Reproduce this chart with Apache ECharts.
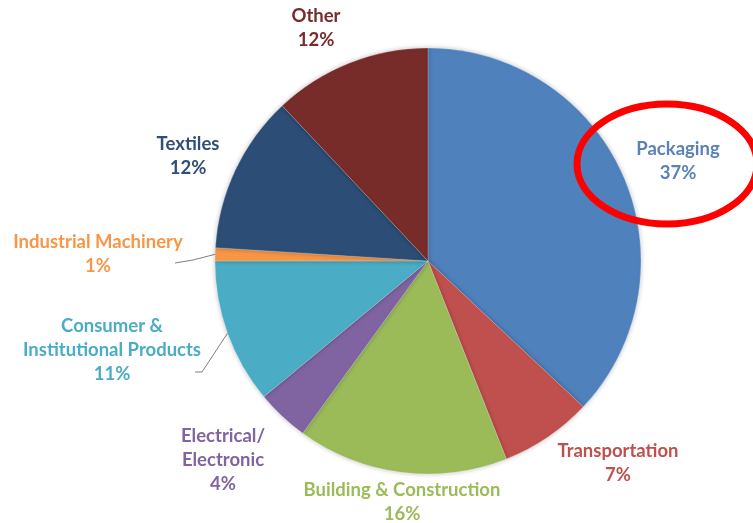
<!DOCTYPE html>
<html>
<head>
<meta charset="utf-8">
<script src="https://cdn.jsdelivr.net/npm/echarts@6/dist/echarts.min.js"></script>
<style>html,body{margin:0;padding:0;background:#fff}#c{width:753px;height:523px}</style>
</head>
<body>
<div id="c"></div>
<script>
// ---- data ----
var categories = ['Packaging', 'Transportation', 'Building & Construction', 'Electrical/\nElectronic',
  'Consumer &\nInstitutional Products', 'Industrial Machinery', 'Textiles', 'Other'];
var shares = [37, 7, 16, 4, 11, 1, 12, 12];

// ---- style / layout ----
var sliceColors = ['#4F81BD', '#C0504D', '#9BBB59', '#8064A2', '#4BACC6', '#F79646', '#2C4D75', '#772C2A'];
var textColors  = ['#5A82B8', '#C0504D', '#9BBB59', '#8064A2', '#4BACC6', '#F79646', '#2F4F78', '#772C2A'];
var CX = 428, CY = 261, R = 213;
// label block centre offsets from pie centre
var labelOffsets = [[250, -100], [190, 202], [-26, 241], [-205, 199], [-316, 89], [-330, -7], [-240, -105], [-112, -233]];
// leader line end points (offsets from centre) for items with a line
var leaderEnds = { 4: [[-226, 111], [-233, 111]], 5: [[-235, -1], [-253, 2]] };

var total = shares.reduce(function (a, b) { return a + b; }, 0);
function midAngle(i) {
  var s = 0;
  for (var k = 0; k < i; k++) s += shares[k];
  return (s + shares[i] / 2) / total * Math.PI * 2;
}

var chart = echarts.init(document.getElementById('c'), null, { renderer: 'canvas' });
chart.setOption({
  animation: false,
  backgroundColor: '#ffffff',
  series: [{
    type: 'pie',
    center: [CX, CY],
    radius: R,
    startAngle: 90,
    clockwise: true,
    itemStyle: { shadowBlur: 5, shadowColor: 'rgba(0,0,0,0.25)', borderColor: 'rgba(255,255,255,0.35)', borderWidth: 0.6 },
    label: {
      show: true,
      position: 'outside',
      formatter: '{b}\n{c}%',
      fontFamily: 'Lato',
      fontWeight: 'bold',
      fontSize: 18.5,
      lineHeight: 24,
      align: 'center',
      overflow: 'none'
    },
    labelLine: { show: false, lineStyle: { color: '#7f7f7f', width: 1 } },
    emphasis: { disabled: true },
    labelLayout: function (p) {
      var i = p.dataIndex;
      var o = labelOffsets[i];
      var res = { x: CX + o[0], y: CY + o[1], align: 'center', verticalAlign: 'middle', width: 260 };
      if (leaderEnds[i]) {
        var a = midAngle(i);
        var pts = [[CX + R * Math.sin(a), CY - R * Math.cos(a)]];
        leaderEnds[i].forEach(function (e) { pts.push([CX + e[0], CY + e[1]]); });
        res.labelLinePoints = pts;
      }
      return res;
    },
    data: categories.map(function (name, i) {
      return {
        name: name,
        value: shares[i],
        itemStyle: { color: sliceColors[i] },
        label: { color: textColors[i] },
        labelLine: { show: !!leaderEnds[i] }
      };
    })
  }],
  graphic: [{
    type: 'ellipse',
    shape: { cx: 667, cy: 164, rx: 90, ry: 60 },
    style: { fill: 'none', stroke: '#FF0000', lineWidth: 7 },
    z: 100
  }]
});
</script>
</body>
</html>
